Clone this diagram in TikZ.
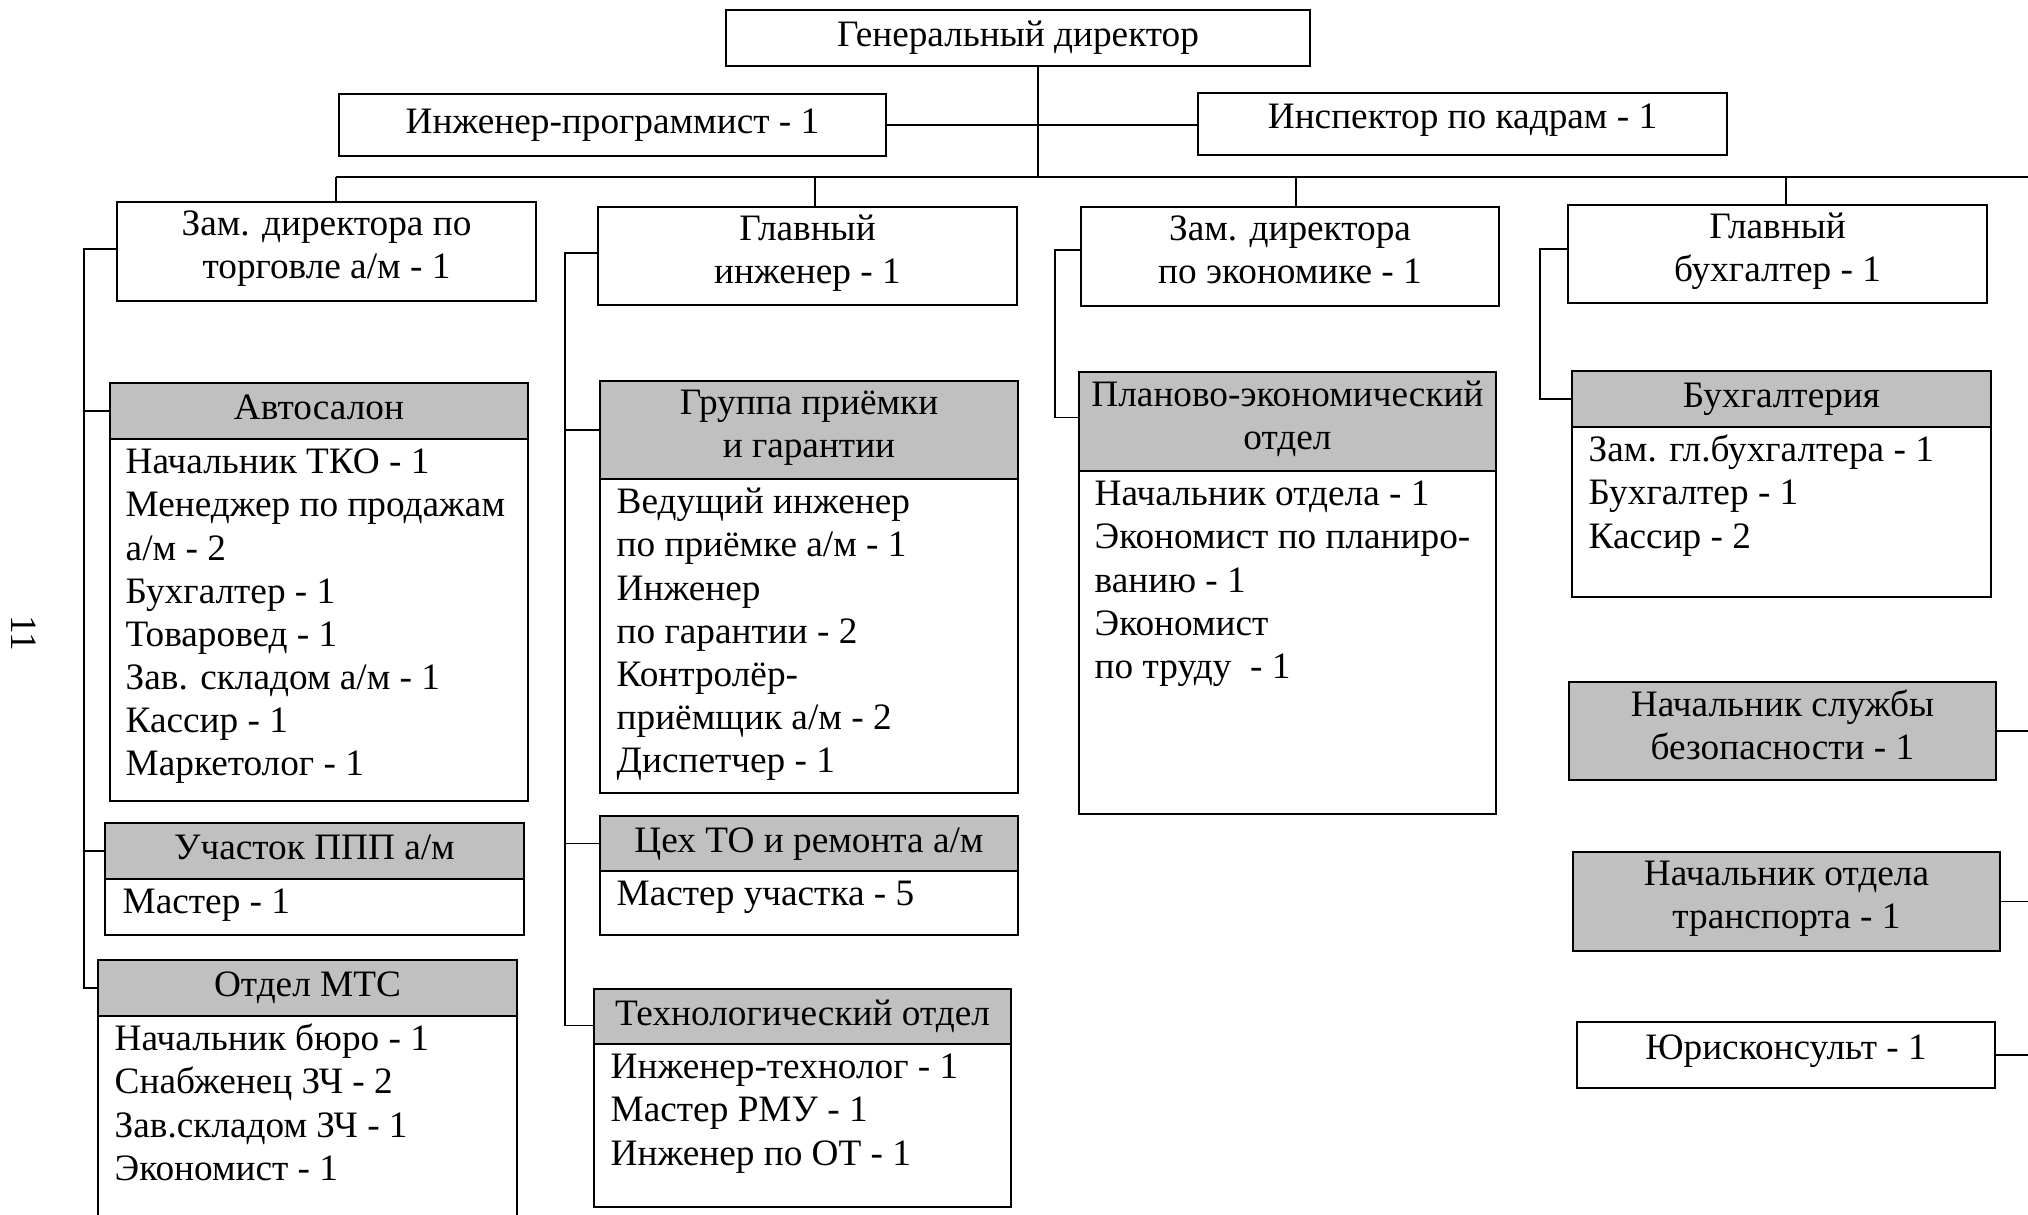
\documentclass[tikz,border=0pt]{standalone}
\usepackage{fontspec}
\setmainfont{Liberation Serif}
\usetikzlibrary{calc}
\definecolor{hdrgray}{RGB}{192,192,192}
\newcommand\fs{\fontsize{10.6pt}{12.25pt}\selectfont}
\newcommand\mkbox[7]{\node[#2, anchor=north west, minimum width={(#5-#3)*0.01cm}, minimum height={(#6-#4)*0.01cm}] (#1) at (#3,#4) {#7};}
\tikzset{
  plainbox/.style={draw, line width=0.6pt, inner sep=0pt, outer sep=0pt, align=center, font=\fs},
  box/.style={plainbox,
    execute at begin node={\strut}, execute at end node={\rule[-3.7pt]{0pt}{1pt}}},
  highbox/.style={plainbox,
    execute at begin node={\strut}, execute at end node={\rule[-5.9pt]{0pt}{1pt}}},
  hdr/.style={box, fill=hdrgray},
  bodybox/.style={draw, line width=0.6pt, inner sep=0pt, outer sep=0pt},
  btext/.style={anchor=north west, inner sep=0pt, align=left, font=\fs},
  conn/.style={line width=0.45pt},
}
\begin{document}
\begin{tikzpicture}[x=0.01cm, y=-0.01cm]
\useasboundingbox (0,0) rectangle (2028,1214);
\fill[white] (0,0) rectangle (2028,1214);
\clip (0,0) rectangle (2028,1214);

% top level
\mkbox{GD}{plainbox}{726}{10}{1310}{66}{Генеральный директор}
\mkbox{IP}{plainbox}{339}{94}{886}{156}{Инженер-программист - 1}
\mkbox{IK}{highbox}{1198}{93}{1727}{155}{Инспектор по кадрам - 1}

% second level
\mkbox{ZT}{box}{117}{202}{536}{301}{Зам. директора по\\торговле а/м - 1}
\mkbox{GI}{box}{598}{207}{1017}{305}{Главный\\инженер - 1}
\mkbox{ZE}{box}{1081}{207}{1499}{306}{Зам. директора\\по экономике - 1}
\mkbox{GB}{box}{1568}{205}{1987}{303}{Главный\\бухгалтер - 1}

% Автосалон
\mkbox{ASh}{hdr}{110}{383}{528}{439}{Автосалон}
\mkbox{ASb}{bodybox}{110}{439}{528}{801}{}
\node[btext] (ASt) at (125,443) {\strut Начальник ТКО - 1\\Менеджер по продажам\\а/м - 2\\Бухгалтер - 1\\Товаровед - 1\\Зав. складом а/м - 1\\Кассир - 1\\Маркетолог - 1};

% Участок ППП
\mkbox{UPh}{hdr}{105}{823}{524}{879}{Участок ППП а/м}
\mkbox{UPb}{bodybox}{105}{879}{524}{935}{}
\node[btext] (UPt) at (122,883) {\strut Мастер - 1};

% Отдел МТС
\mkbox{MTSh}{hdr}{98}{960}{517}{1016}{Отдел МТС}
\mkbox{MTSb}{bodybox}{98}{1016}{517}{1240}{}
\node[btext] (MTSt) at (114,1020) {\strut Начальник бюро - 1\\Снабженец ЗЧ - 2\\Зав.складом ЗЧ - 1\\Экономист - 1};

% Группа приёмки
\mkbox{GPh}{hdr}{600}{381}{1018}{479}{Группа приёмки\\и гарантии}
\mkbox{GPb}{bodybox}{600}{479}{1018}{793}{}
\node[btext] (GPt) at (616,483) {\strut Ведущий инженер\\по приёмке а/м - 1\\Инженер\\по гарантии - 2\\Контролёр-\\приёмщик а/м - 2\\Диспетчер - 1};

% Цех ТО
\mkbox{TOh}{hdr}{600}{816}{1018}{871}{Цех ТО и ремонта а/м}
\mkbox{TOb}{bodybox}{600}{871}{1018}{935}{}
\node[btext] (TOt) at (616,875) {\strut Мастер участка - 5};

% Технологический отдел
\mkbox{TEh}{hdr}{594}{989}{1011}{1044}{Технологический отдел}
\mkbox{TEb}{bodybox}{594}{1044}{1011}{1207}{}
\node[btext] (TEt) at (610,1048) {\strut Инженер-технолог - 1\\Мастер РМУ - 1\\Инженер по ОТ - 1};

% Планово-экономический отдел
\mkbox{PEh}{hdr}{1079}{372}{1496}{471}{Планово-экономический\\отдел}
\mkbox{PEb}{bodybox}{1079}{471}{1496}{814}{}
\node[btext] (PEt) at (1094,475) {\strut Начальник отдела - 1\\Экономист по планиро-\\ванию - 1\\Экономист\\по труду~ - 1};

% Бухгалтерия
\mkbox{BUHh}{hdr}{1572}{371}{1991}{427}{Бухгалтерия}
\mkbox{BUHb}{bodybox}{1572}{427}{1991}{597}{}
\node[btext] (BUHt) at (1588,431) {\strut Зам. гл.бухгалтера - 1\\Бухгалтер - 1\\Кассир - 2};

% right column
\mkbox{SB}{hdr}{1569}{682}{1996}{780}{Начальник службы\\безопасности - 1}
\mkbox{TR}{hdr}{1573}{852}{2000}{951}{Начальник отдела\\транспорта - 1}
\mkbox{YU}{highbox}{1577}{1022}{1995}{1088}{Юрисконсульт - 1}

% page number
\node[font=\fs, rotate=-90, inner sep=0pt] (pg) at (24,633) {11};

% connectors
\coordinate (busL) at (336,177);
\coordinate (busR) at (2060,177);
\coordinate (gdout) at ($(GD.south)+(20,0)$);
\coordinate (d2) at (815,177);
\coordinate (d3) at (1296,177);
\coordinate (d4) at (1786,177);
\coordinate (r1) at (84,0);
\coordinate (r2) at (565,0);
\coordinate (r3) at (1055,0);
\coordinate (r4) at (1540,0);
\coordinate (rr) at (2060,0);
\coordinate (ztw) at ($(ZT.west)+(0,-2.5)$);
\coordinate (giw) at ($(GI.west)+(0,-3)$);
\coordinate (zew) at ($(ZE.west)+(0,-6.5)$);
\coordinate (gbw) at ($(GB.west)+(0,-5)$);
\coordinate (tew) at ($(TEh.west)+(0,9)$);
\coordinate (pew) at ($(PEh.west)+(0,-4)$);

\draw[conn] (gdout) -- (gdout |- busL);
\draw[conn] (IP.east) -- (IP.east -| IK.west);
\draw[conn] (busL) -- (busR);
\draw[conn] (busL) -- (busL |- ZT.north);
\draw[conn] (d2) -- (d2 |- GI.north);
\draw[conn] (d3) -- (d3 |- ZE.north);
\draw[conn] (d4) -- (d4 |- GB.north);

\draw[conn] (ztw) -- (ztw -| r1) |- (MTSh.west);
\draw[conn] (ASh.west) -- (ASh.west -| r1);
\draw[conn] (UPh.west) -- (UPh.west -| r1);

\draw[conn] (giw) -- (giw -| r2) |- (tew);
\draw[conn] (GPh.west) -- (GPh.west -| r2);
\draw[conn] (TOh.west) -- (TOh.west -| r2);

\draw[conn] (zew) -- (zew -| r3) |- (pew);
\draw[conn] (gbw) -- (gbw -| r4) |- (BUHh.west);

\draw[conn] (SB.east) -- (SB.east -| rr);
\draw[conn] (TR.east) -- (TR.east -| rr);
\draw[conn] (YU.east) -- (YU.east -| rr);
\end{tikzpicture}
\end{document}
